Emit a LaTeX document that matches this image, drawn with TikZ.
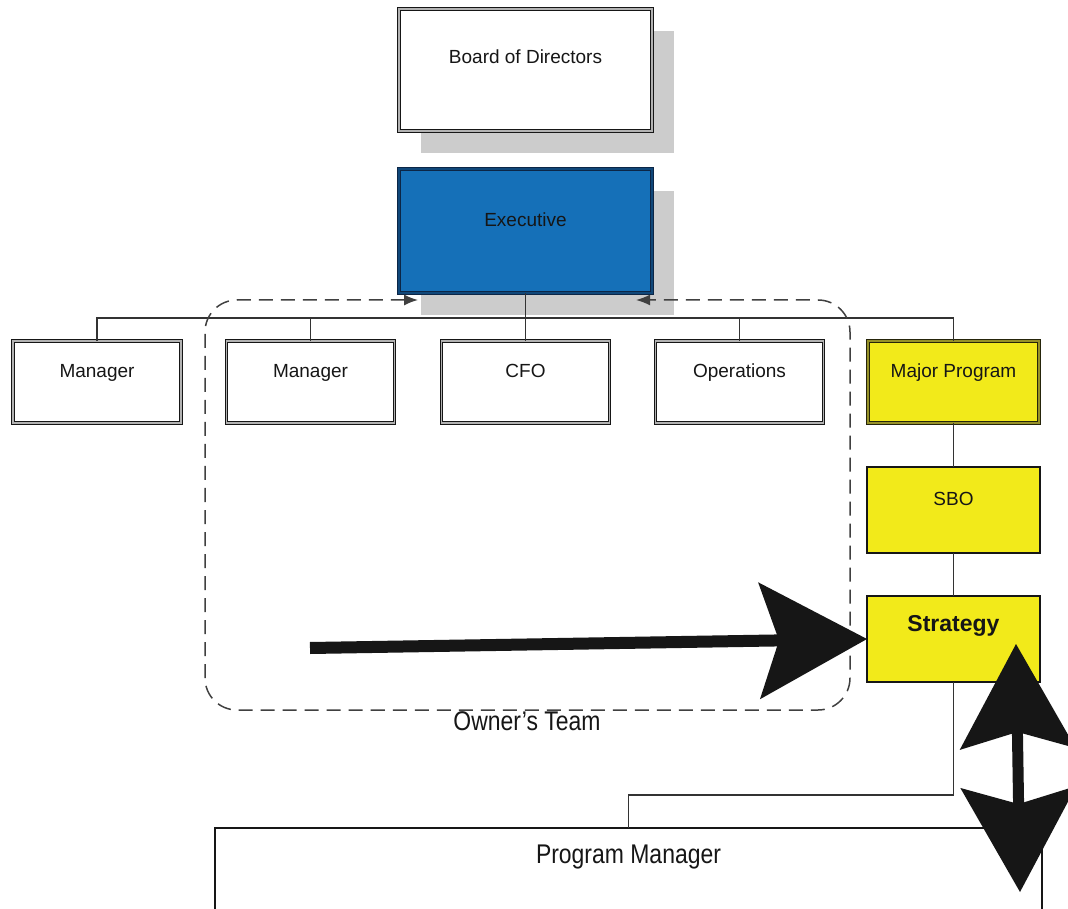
\documentclass[tikz,border=0pt]{standalone}
\usepackage{fontspec}
\setmainfont{Liberation Sans}
\newfontfamily\narrowfont{Liberation Sans}[FakeStretch=0.85]
\usetikzlibrary{arrows.meta,calc,shadows}
\definecolor{execblue}{RGB}{21,112,184}
\definecolor{ybox}{RGB}{242,234,26}
\definecolor{olivebd}{RGB}{150,145,40}
\definecolor{navy}{RGB}{12,38,70}
\definecolor{shade}{RGB}{204,204,204}
\definecolor{ink}{RGB}{22,22,22}
\begin{document}
\begin{tikzpicture}[x=1pt,y=-1pt,
  box/.style={inner sep=0pt, outer sep=0pt, minimum width=168pt, minimum height=82pt},
  dbl/.style={box, draw=ink, line width=1.1pt, double=black!30, double distance=1.6pt, fill=white},
  shdw/.style={drop shadow={shadow xshift=22pt,shadow yshift=-22pt,fill=shade,opacity=1}},
  execbox/.style={draw=navy, double=navy!55!execblue, fill=execblue},
  mpbox/.style={draw=black!75!olivebd, double=olivebd, fill=ybox},
  ybx/.style={box, draw=ink, line width=1.3pt, fill=ybox, minimum width=173pt, minimum height=86pt},
  pmbox/.style={box, draw=ink, line width=1.3pt, fill=white, minimum width=827pt, minimum height=124pt},
  lbl/.style={anchor=base, inner sep=0pt, text=ink, font=\fontsize{19}{22}\selectfont},
  biglbl/.style={anchor=base, inner sep=0pt, text=ink, font=\narrowfont\fontsize{27}{30}\selectfont},
  conn/.style={draw=black!80, line width=1.2pt},
  teamline/.style={draw=black!75, line width=1.5pt, dash pattern=on 14pt off 8pt, rounded corners=32pt},
]
\useasboundingbox (0,0) rectangle (1068,909);
\clip (0,0) rectangle (1068,909);
\fill[white] (0,0) rectangle (1068,909);

% top boxes
\node[dbl, shdw, minimum width=253pt, minimum height=122pt] (board) at (525.5,70) {};
\node[dbl, shdw, execbox, minimum width=253pt, minimum height=124pt] (exec) at (525.5,231) {};

% manager row
\node[dbl] (m1) at (97,382) {};
\node[dbl] (m2) at (310.5,382) {};
\node[dbl] (cfo) at (525.5,382) {};
\node[dbl] (ops) at (739.5,382) {};
\node[dbl, mpbox, minimum width=171pt] (mp) at (953.5,382) {};
\node[ybx] (sbo) at (953.5,510) {};
\node[ybx] (strat) at (953.5,639) {};
\node[pmbox] (pm) at (628.5,890) {};

% connectors
\coordinate (bus) at (525.5,318);
\draw[conn] (exec.south) -- (bus);
\draw[conn] (m1.north) -- (m1.north |- bus) -- (mp.north |- bus) -- (mp.north);
\draw[conn] (m2.north) -- (m2.north |- bus);
\draw[conn] (cfo.north) -- (cfo.north |- bus);
\draw[conn] (ops.north) -- (ops.north |- bus);
\draw[conn] (mp.south) -- (sbo.north);
\draw[conn] (sbo.south) -- (strat.north);
\draw[conn] (strat.south) -- ++(0,113) -| (pm.north);

% labels
\node[lbl] (tboard) at ($(board.north)+(0,55)$) {Board of Directors};
\node[lbl] (texec) at ($(exec.north)+(0,58)$) {Executive};
\node[lbl] (tm1) at ($(m1.north)+(0,36)$) {Manager};
\node[lbl] (tm2) at ($(m2.north)+(0,36)$) {Manager};
\node[lbl] (tcfo) at ($(cfo.north)+(0,36)$) {CFO};
\node[lbl] (tops) at ($(ops.north)+(0,36)$) {Operations};
\node[lbl] (tmp) at ($(mp.north)+(0,36)$) {Major Program};
\node[lbl] (tsbo) at ($(sbo.north)+(0,38)$) {SBO};
\node[lbl, font=\bfseries\fontsize{23}{26}\selectfont] (tstrat) at ($(strat.north)+(0,35)$) {Strategy};
\node[biglbl] (tpm) at ($(pm.north)+(0,35)$) {Program Manager};

% owner's team
\coordinate (dl) at (418,300);
\coordinate (dr) at (636,300);
\draw[teamline, {Latex[length=14pt,width=11pt]}-{Latex[length=14pt,width=11pt]}]
  (dl) -- (205,300) -- (205,710) -- (850,710) -- (850,300) -- (dr);
\node[biglbl] (owner) at (527,730) {Owner’s Team};

% big arrows
\coordinate (tail) at (310,648);
\draw[ink, line width=12pt, -{Stealth[length=108pt,width=117pt,inset=20pt,line width=0pt]}] (tail) -- (strat.west);
\coordinate (vtop) at (1016,644);
\coordinate (vbot) at (1020,892);
\draw[ink, line width=11pt, {Stealth[length=105pt,width=116pt,inset=17pt,line width=0pt]}-{Stealth[length=105pt,width=116pt,inset=17pt,line width=0pt]}] (vtop) -- (vbot);
\end{tikzpicture}
\end{document}
